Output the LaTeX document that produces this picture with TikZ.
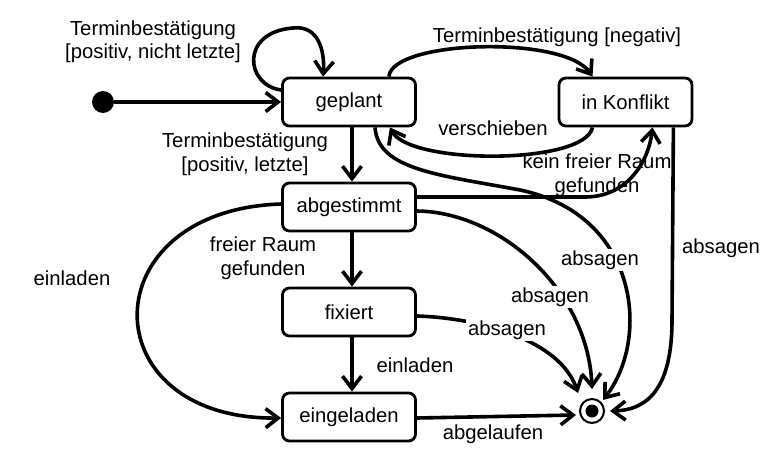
\documentclass[tikz,border=0pt]{standalone}
\usepackage{fontspec}
\setmainfont{Liberation Sans}
\usetikzlibrary{arrows.meta}
\begin{document}
\begin{tikzpicture}[x=1pt,y=-1pt,
  font=\fontsize{20.3}{23.5}\selectfont,
  state/.style={draw,line width=2.8pt,rounded corners=7pt,minimum width=133pt,minimum height=48pt,inner sep=0pt},
  trans/.style={line width=3.6pt,-{Straight Barb[length=12.5pt,width=19pt]}},
  lbl/.style={align=center,inner sep=1pt},
  cut/.style={lbl,fill=white,inner sep=2pt}]
\useasboundingbox (0,0) rectangle (776,460);
% states
\node[state] (geplant) at (349,102) {geplant};
\node[state] (konflikt) at (625.5,102) {in Konflikt};
\node[state] (abgestimmt) at (349,207) {abgestimmt};
\node[state] (fixiert) at (349,312) {fixiert};
\node[state] (eingeladen) at (349,417) {eingeladen};
\node[circle,fill,inner sep=0pt,minimum size=22pt] (start) at (103,102) {};
\node[circle,draw,line width=2pt,inner sep=0pt,minimum size=24pt] (final) at (592,411) {};
\node[circle,fill,inner sep=0pt,minimum size=13pt] (finaldot) at (final) {};
% transitions
\draw[trans] (start) -- (geplant.west);
\draw[trans] ([yshift=12pt]geplant.west) .. controls (245,85) and (240,32) .. (293,28) .. controls (318,25) and (325,50) .. ([xshift=-26pt]geplant.north);
\draw[trans] ([xshift=3pt]geplant.south) -- ([xshift=3pt]abgestimmt.north);
\draw[trans] ([xshift=3pt]abgestimmt.south) -- ([xshift=3pt]fixiert.north);
\draw[trans] ([xshift=3pt]fixiert.south) -- ([xshift=3pt]eingeladen.north);
\draw[trans] ([xshift=-28pt]geplant.north east) .. controls (392,40) and (565,35) .. ([xshift=-33pt]konflikt.north);
\draw[trans] ([xshift=-33pt]konflikt.south) .. controls (585,165) and (410,165) .. ([xshift=-27pt]geplant.south east);
\draw[trans] ([yshift=10pt]abgestimmt.east) -- (585,197) .. controls (625,197) and (648,165) .. ([xshift=27pt]konflikt.south);
\draw[trans] ([xshift=26pt]geplant.south) .. controls (378,170) and (440,175) .. (520,190) .. controls (640,215) and (650,340) .. ([xshift=11pt,yshift=11pt]final.center);
\draw[trans] ([yshift=-4pt]abgestimmt.east) .. controls (500,212) and (588,290) .. ([yshift=22pt]final.center);
\draw[trans] ([yshift=-4pt]fixiert.east) .. controls (480,318) and (560,340) .. ([xshift=-14pt,yshift=18pt]final.center);
\draw[trans] ([xshift=-20pt]konflikt.south east) -- (672,320) .. controls (672,385) and (650,410) .. ([xshift=18pt]final.center);
\draw[trans] ([yshift=3pt]abgestimmt.west) .. controls (90,210) and (90,420) .. ([yshift=-1pt]eingeladen.west);
\draw[trans] ([yshift=-1pt]eingeladen.east) -- ([xshift=-16pt,yshift=-4pt]final.center);
% labels
\node[lbl] (l1) at (153,42) {Terminbestätigung\\{[}positiv, nicht letzte]};
\node[lbl] (l2) at (245,154) {Terminbestätigung\\{[}positiv, letzte]};
\node[lbl] (l3) at (557,37) {Terminbestätigung [negativ]};
\node[lbl] (l4) at (493,128) {verschieben};
\node[lbl] (l5) at (597,175) {kein freier Raum\\gefunden};
\node[lbl] (l6) at (72,278) {einladen};
\node[lbl] (l7) at (263,258) {freier Raum\\gefunden};
\node[lbl] (l8) at (415,365) {einladen};
\node[lbl] (l9) at (493,434) {abgelaufen};
\node[lbl] (l10) at (721,248) {absagen};
\node[cut] (l11) at (600,260) {absagen};
\node[cut] (l12) at (550,297) {absagen};
\node[cut] (l13) at (507,330) {absagen};
\end{tikzpicture}
\end{document}
